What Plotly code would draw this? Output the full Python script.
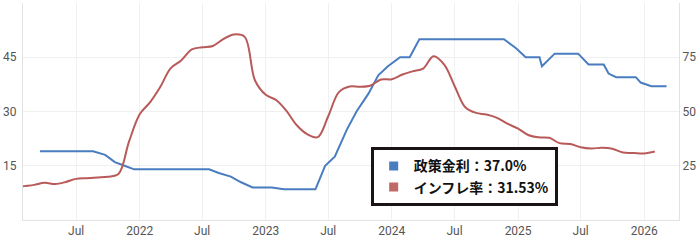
import plotly.graph_objects as go
import pandas as pd

# --- Inflation (monthly, % y/y) ---
infl_months = pd.date_range("2021-01-01", "2026-02-01", freq="MS").strftime("%Y-%m-%d").tolist()
infl_values = [
    14.97, 15.61, 16.19, 17.14, 16.59, 17.53, 18.95, 19.25, 19.58, 19.89, 21.31, 36.08,
    48.69, 54.44, 61.14, 69.97, 73.50, 78.62, 79.60, 80.21, 83.45, 85.51, 84.39, 64.27,
    57.68, 55.18, 50.51, 43.68, 39.59, 38.21, 47.83, 58.94, 61.53, 61.36, 61.98, 64.77,
    64.86, 67.07, 68.50, 69.80, 75.45, 71.60, 61.78, 51.97, 49.38, 48.58, 47.09, 44.38,
    42.12, 39.05, 38.10, 37.86, 35.41, 35.05, 33.52, 32.95, 33.29, 32.87, 31.07, 30.89,
    30.65, 31.53,
]

# --- Policy rate (%) ---
rate_dates = [
    "2021-03-18", "2021-08-19", "2021-09-23", "2021-10-21", "2021-11-18", "2021-12-16",
    "2022-07-21", "2022-08-18", "2022-09-22", "2022-10-20", "2022-11-24",
    "2023-01-19", "2023-02-23", "2023-05-25", "2023-06-22", "2023-07-20", "2023-08-24",
    "2023-09-21", "2023-10-26", "2023-11-23", "2023-12-21", "2024-01-25", "2024-02-22",
    "2024-03-21", "2024-11-21", "2024-12-26", "2025-01-23", "2025-03-04", "2025-03-11",
    "2025-04-17", "2025-06-24", "2025-07-24", "2025-09-06", "2025-09-20", "2025-10-12",
    "2025-12-08", "2025-12-22", "2026-01-22", "2026-03-07",
]
rate_values = [
    19, 19, 18, 16, 15, 14,
    14, 13, 12, 10.5, 9,
    9, 8.5, 8.5, 15, 17.5, 25,
    30, 35, 40, 42.5, 45, 45,
    50, 50, 47.5, 45, 45, 42.5,
    46, 46, 43, 43, 40.5, 39.5,
    39.5, 38, 37, 37,
]

tick_vals = ["2021-07-01", "2022-01-01", "2022-07-01", "2023-01-01", "2023-07-01",
             "2024-01-01", "2024-07-01", "2025-01-01", "2025-07-01", "2026-01-01"]
tick_text = ["Jul", "2022", "Jul", "2023", "Jul", "2024", "Jul", "2025", "Jul", "2026"]

rate_name = "政策金利"
infl_name = "インフレ率"
blue = "#4a7dc0"
red = "#b85a5a"

fig = go.Figure()
fig.add_trace(go.Scatter(x=infl_months, y=infl_values, yaxis="y2", mode="lines",
                         line=dict(color=red, width=2, shape="spline", smoothing=1.0),
                         showlegend=False, hoverinfo="skip"))
fig.add_trace(go.Scatter(x=rate_dates, y=rate_values, yaxis="y", mode="lines",
                         line=dict(color=blue, width=2, shape="linear"),
                         showlegend=False, hoverinfo="skip"))
# legend entries
fig.add_trace(go.Scatter(x=[None], y=[None], mode="markers",
                         marker=dict(symbol="square", size=9, color=blue),
                         name=f"{rate_name}：{rate_values[-1]:.1f}%"))
fig.add_trace(go.Scatter(x=[None], y=[None], mode="markers",
                         marker=dict(symbol="square", size=9, color="#c06a68"),
                         name=f"{infl_name}：{infl_values[-1]:.2f}%"))

grid = "#f0f0f0"
fig.update_layout(
    width=700, height=241,
    margin=dict(l=20, r=21, t=3, b=16),
    paper_bgcolor="white", plot_bgcolor="white",
    font=dict(family="Roboto, 'Noto Sans CJK JP', sans-serif", size=12, color="#555"),
    xaxis=dict(range=["2021-01-28", "2026-04-12"], tickvals=tick_vals, ticktext=tick_text,
               showgrid=True, gridcolor=grid, gridwidth=1, showline=True, linecolor="#e2e2e2",
               mirror=False, ticks="", zeroline=False, tickfont=dict(size=12, color="#555")),
    yaxis=dict(range=[0, 60], tickvals=[15, 30, 45, 60], ticktext=["15", "30", "45", ""],
               showgrid=True, gridcolor=grid, showline=True, linecolor="#e2e2e2",
               zeroline=False, ticks="", ticklabelstandoff=3, tickfont=dict(size=12, color="#555")),
    yaxis2=dict(range=[0, 100], overlaying="y", side="right", tickvals=[25, 50, 75],
                showgrid=False, showline=True, linecolor="#e2e2e2", zeroline=False, ticks="",
                tickfont=dict(size=12, color="#555")),
    legend=dict(x=0.53, y=0.335, xanchor="left", yanchor="top",
                bgcolor="white", bordercolor="#1a1414", borderwidth=3,
                font=dict(family="'Noto Sans CJK JP', sans-serif", size=14, color="#111", weight="bold"),
                itemwidth=30, tracegroupgap=2),
)
fig.write_html("out.html")
